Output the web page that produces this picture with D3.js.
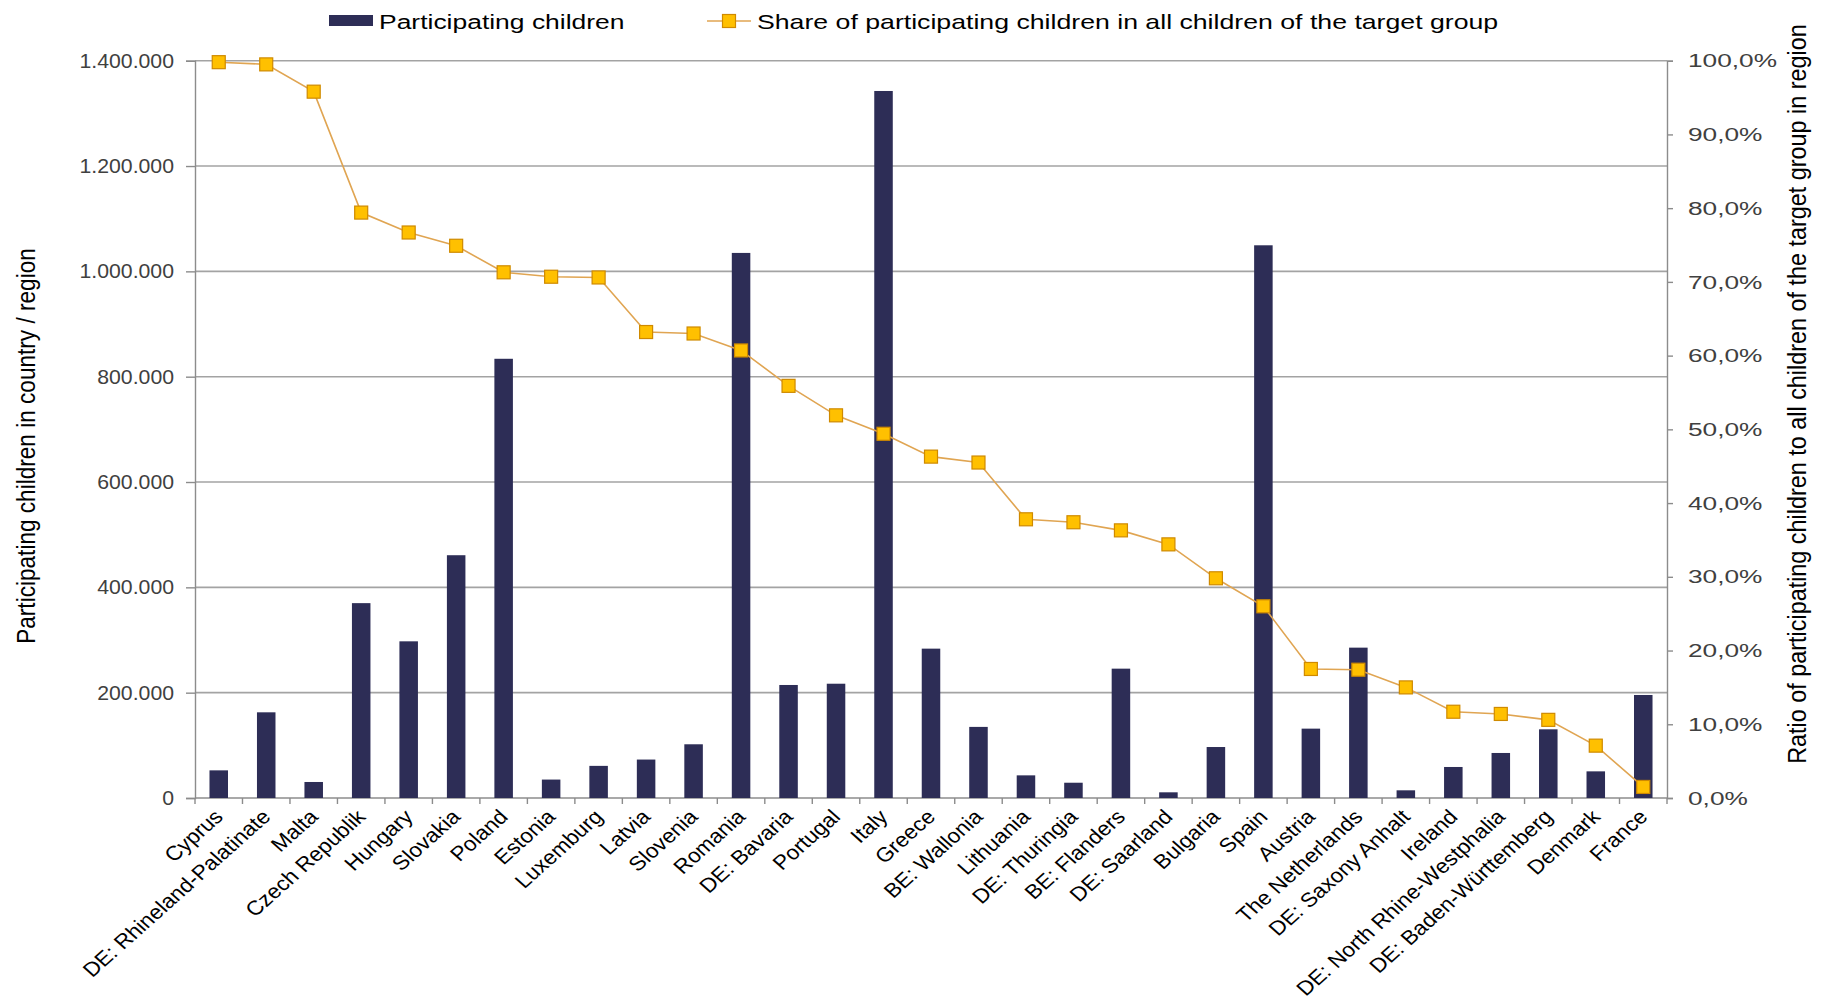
<!DOCTYPE html>
<html>
<head>
<meta charset="utf-8">
<script src="https://cdn.jsdelivr.net/npm/d3@7"></script>
<style>
  html, body { margin: 0; padding: 0; background: #ffffff; }
  svg { display: block; font-family: "Liberation Sans", Arial, sans-serif; }
</style>
</head>
<body>
<svg id="chart" width="1830" height="1002"></svg>
<script>
// Countries / regions, ordered by participation share
const categories = [
  "Cyprus", "DE: Rhineland-Palatinate", "Malta", "Czech Republik", "Hungary",
  "Slovakia", "Poland", "Estonia", "Luxemburg", "Latvia", "Slovenia", "Romania",
  "DE: Bavaria", "Portugal", "Italy", "Greece", "BE: Wallonia", "Lithuania",
  "DE: Thuringia", "BE: Flanders", "DE: Saarland", "Bulgaria", "Spain", "Austria",
  "The Netherlands", "DE: Saxony Anhalt", "Ireland", "DE: North Rhine-Westphalia",
  "DE: Baden-Württemberg", "Denmark", "France"
];

// Participating children (absolute numbers)
const participants = [
  52500, 162700, 30400, 370000, 297500,
  461000, 834000, 35000, 61000, 73000, 102000, 1035000,
  214600, 217000, 1342500, 283600, 135000, 43000,
  29000, 245600, 10800, 96800, 1049500, 131700,
  285500, 14600, 58900, 85500,
  130400, 50600, 195600
];

// Share of participating children in all children of the target group (%)
const sharePct = [
  99.8, 99.5, 95.8, 79.4, 76.7,
  74.9, 71.3, 70.7, 70.6, 63.2, 63.0, 60.7,
  55.9, 51.9, 49.4, 46.3, 45.5, 37.8,
  37.4, 36.3, 34.4, 29.8, 26.0, 17.5,
  17.4, 15.0, 11.7, 11.4,
  10.6, 7.1, 1.5
];

const leftTicks = [0, 200000, 400000, 600000, 800000, 1000000, 1200000, 1400000];
const rightTicks = [0, 10, 20, 30, 40, 50, 60, 70, 80, 90, 100];

const legendLabels = [
  "Participating children",
  "Share of participating children in all children of the target group"
];
const leftTitle = "Participating children in country / region";
const rightTitle = "Ratio of participating children to all children of the target group in region";

// German-style number formatting: "." for thousands, "," for decimals
const locale = d3.formatLocale({ decimal: ",", thousands: ".", grouping: [3], currency: ["", ""] });
const fmtCount = locale.format(",d");
const fmtPct = v => locale.format(".1f")(v) + "%";

const colors = {
  bar: "#2d2d56",
  line: "#e0a552",
  marker: "#ffc000",
  markerStroke: "#cf8a00",
  grid: "#a3a3a3",
  axis: "#8c8c8c",
  tickText: "#404040"
};

const plot = { left: 195, right: 1667, top: 60.7, bottom: 798 };
const svg = d3.select("#chart");

const x = d3.scaleBand()
  .domain(categories)
  .range([plot.left, plot.right])
  .paddingInner(0.61)
  .paddingOuter(0.305);
const step = x.step();
const cx = d => x(d) + x.bandwidth() / 2;

const yLeft = d3.scaleLinear().domain([0, 1400000]).range([plot.bottom, plot.top]);
const yRight = d3.scaleLinear().domain([0, 100]).range([plot.bottom, plot.top]);

// Horizontal gridlines at the left-axis ticks
svg.append("g")
  .selectAll("line")
  .data(leftTicks.filter(t => t > 0))
  .join("line")
  .attr("x1", plot.left).attr("x2", plot.right)
  .attr("y1", d => yLeft(d)).attr("y2", d => yLeft(d))
  .attr("stroke", colors.grid).attr("stroke-width", 1.6);

// Left axis
const leftAxis = svg.append("g")
  .attr("transform", `translate(${plot.left},0)`)
  .call(d3.axisLeft(yLeft).tickValues(leftTicks).tickSize(9).tickFormat(""));
leftAxis.select(".domain").attr("stroke", colors.axis).attr("stroke-width", 1.4);
leftAxis.selectAll(".tick line").attr("stroke", colors.axis).attr("stroke-width", 1.4);

svg.append("g")
  .selectAll("text")
  .data(leftTicks)
  .join("text")
  .attr("transform", d => `translate(174,${yLeft(d)}) scale(1.09,1)`)
  .attr("dy", "0.36em")
  .attr("text-anchor", "end")
  .attr("font-size", 19.5)
  .attr("fill", colors.tickText)
  .text(d => fmtCount(d));

// Right axis
const rightAxis = svg.append("g")
  .attr("transform", `translate(${plot.right},0)`)
  .call(d3.axisRight(yRight).tickValues(rightTicks).tickSize(6).tickFormat(""));
rightAxis.select(".domain").attr("stroke", colors.axis).attr("stroke-width", 1.4);
rightAxis.selectAll(".tick line").attr("stroke", colors.axis).attr("stroke-width", 1.4);

svg.append("g")
  .selectAll("text")
  .data(rightTicks)
  .join("text")
  .attr("transform", d => `translate(1688,${yRight(d)}) scale(1.42,1)`)
  .attr("dy", "0.36em")
  .attr("text-anchor", "start")
  .attr("font-size", 18.5)
  .attr("fill", colors.tickText)
  .text(d => fmtPct(d));

// Bottom axis with ticks between the categories
const bottom = svg.append("g");
bottom.append("line")
  .attr("x1", plot.left).attr("x2", plot.right)
  .attr("y1", plot.bottom).attr("y2", plot.bottom)
  .attr("stroke", colors.axis).attr("stroke-width", 1.4);
bottom.selectAll("line.tick")
  .data(d3.range(categories.length + 1))
  .join("line")
  .attr("class", "tick")
  .attr("x1", i => plot.left + i * step).attr("x2", i => plot.left + i * step)
  .attr("y1", plot.bottom).attr("y2", plot.bottom + 6)
  .attr("stroke", colors.axis).attr("stroke-width", 1.4);

bottom.selectAll("text")
  .data(categories)
  .join("text")
  .attr("transform", d => `translate(${cx(d)},${plot.bottom + 15}) scale(1.12,1) rotate(-45)`)
  .attr("dy", "0.35em")
  .attr("text-anchor", "end")
  .attr("font-size", 20.2)
  .attr("fill", "#000")
  .text(d => d);

// Bars: participating children
svg.append("g")
  .selectAll("rect")
  .data(categories)
  .join("rect")
  .attr("x", d => x(d))
  .attr("width", x.bandwidth())
  .attr("y", (d, i) => yLeft(participants[i]))
  .attr("height", (d, i) => plot.bottom - yLeft(participants[i]))
  .attr("fill", colors.bar);

// Line: share of participating children
const linePoints = categories.map((c, i) => [cx(c), yRight(sharePct[i])]);
svg.append("path")
  .datum(linePoints)
  .attr("d", d3.line())
  .attr("fill", "none")
  .attr("stroke", colors.line)
  .attr("stroke-width", 1.6);

const ms = 13;
svg.append("g")
  .selectAll("rect")
  .data(linePoints)
  .join("rect")
  .attr("x", d => d[0] - ms / 2)
  .attr("y", d => d[1] - ms / 2)
  .attr("width", ms).attr("height", ms)
  .attr("fill", colors.marker)
  .attr("stroke", colors.markerStroke)
  .attr("stroke-width", 1.2);

// Axis titles
svg.append("text")
  .attr("transform", "translate(26,446) scale(1.1,1) rotate(-90)")
  .attr("dy", "0.35em")
  .attr("text-anchor", "middle")
  .attr("font-size", 22.6)
  .attr("fill", "#000")
  .text(leftTitle);

svg.append("text")
  .attr("transform", "translate(1797,394) scale(1.1,1) rotate(-90)")
  .attr("dy", "0.35em")
  .attr("text-anchor", "middle")
  .attr("font-size", 23.4)
  .attr("fill", "#000")
  .text(rightTitle);

// Legend
const legend = svg.append("g");
legend.append("rect")
  .attr("x", 329).attr("y", 15).attr("width", 44).attr("height", 11)
  .attr("fill", colors.bar);
legend.append("text")
  .attr("transform", "translate(379,21) scale(1.26,1)")
  .attr("dy", "0.36em")
  .attr("font-size", 21)
  .attr("fill", "#000")
  .text(legendLabels[0]);

legend.append("line")
  .attr("x1", 707).attr("x2", 751).attr("y1", 21).attr("y2", 21)
  .attr("stroke", colors.line).attr("stroke-width", 1.6);
legend.append("rect")
  .attr("x", 729 - ms / 2).attr("y", 21 - ms / 2)
  .attr("width", ms).attr("height", ms)
  .attr("fill", colors.marker)
  .attr("stroke", colors.markerStroke)
  .attr("stroke-width", 1.2);
legend.append("text")
  .attr("transform", "translate(757,21) scale(1.27,1)")
  .attr("dy", "0.36em")
  .attr("font-size", 21)
  .attr("fill", "#000")
  .text(legendLabels[1]);
</script>
</body>
</html>
